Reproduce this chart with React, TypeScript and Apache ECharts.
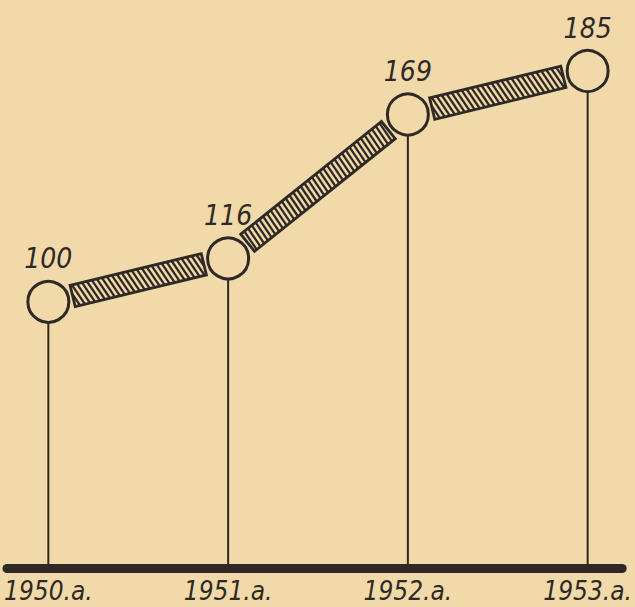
import React, { useEffect, useRef } from "react";
import * as echarts from "echarts";

const years = [1950, 1951, 1952, 1953];
const yearLabels = ["1950.a.", "1951.a.", "1952.a.", "1953.a."];
const values = [100, 116, 169, 185];

const BG = "#f1d9aa";
const INK = "#2e2925";
const FONT = "'Liberation Sans Narrow', 'DejaVu Sans Condensed', 'Roboto', sans-serif";
const Y_MIN = 2;
const Y_MAX = 199;

function renderItem(params: any, api: any) {
  const idx = params.dataIndex;
  const c1 = api.coord([api.value(0), api.value(1)]);
  const base = api.coord([api.value(0), Y_MIN]);
  const r = 21;
  const children: any[] = [
    {
      type: "line",
      shape: { x1: c1[0], y1: c1[1] + r, x2: c1[0], y2: base[1] - 4 },
      style: { stroke: INK, lineWidth: 2 },
    },
  ];
  if (idx < years.length - 1) {
    const c2 = api.coord([years[idx + 1], values[idx + 1]]);
    const dx = c2[0] - c1[0];
    const dy = c2[1] - c1[1];
    const len = Math.sqrt(dx * dx + dy * dy);
    const u = [dx / len, dy / len];
    const n = [-u[1], u[0]];
    const gap = 25;
    const s = [c1[0] + u[0] * gap, c1[1] + u[1] * gap];
    const L = len - 2 * gap;
    const h = 11;
    const P = (a: number, b: number) => [s[0] + u[0] * a + n[0] * b, s[1] + u[1] * a + n[1] * b];
    const corners = [P(0, -h), P(L, -h), P(L, h), P(0, h)];
    // hatch lines: x - k*y = c
    const k = 0.68;
    const step = 5.8;
    const A = u[0] - k * u[1];
    const B = n[0] - k * n[1];
    const C0 = s[0] - k * s[1];
    const cs = corners.map((p) => p[0] - k * p[1]);
    const cmin = Math.min(...cs);
    const cmax = Math.max(...cs);
    for (let c = Math.ceil(cmin / step) * step; c <= cmax; c += step) {
      const a1 = (c - C0 + B * h) / A;
      const a2 = (c - C0 - B * h) / A;
      let t0 = 0;
      let t1 = 1;
      const da = a2 - a1;
      if (Math.abs(da) < 1e-9) {
        if (a1 < 0 || a1 > L) continue;
      } else {
        const ta = (0 - a1) / da;
        const tb = (L - a1) / da;
        t0 = Math.max(t0, Math.min(ta, tb));
        t1 = Math.min(t1, Math.max(ta, tb));
      }
      if (t1 <= t0) continue;
      const p0 = P(a1 + da * t0, -h + 2 * h * t0);
      const p1 = P(a1 + da * t1, -h + 2 * h * t1);
      children.push({
        type: "line",
        shape: { x1: p0[0], y1: p0[1], x2: p1[0], y2: p1[1] },
        style: { stroke: INK, lineWidth: 2.3 },
      });
    }
    children.push({
      type: "polygon",
      shape: { points: corners },
      style: { fill: "transparent", stroke: INK, lineWidth: 2.8, lineJoin: "miter" },
    });
  }
  return { type: "group", children };
}

export default function App() {
  const ref = useRef<HTMLDivElement>(null);
  useEffect(() => {
    if (!ref.current) return;
    const chart = echarts.init(ref.current, null, { renderer: "svg" });
    chart.setOption({
      animation: false,
      backgroundColor: BG,
      grid: { left: 7, right: 3, top: 33, bottom: 39 },
      xAxis: {
        type: "value",
        min: 1949.77,
        max: 1953.192,
        splitLine: { show: false },
        axisTick: { show: false },
        axisLine: { show: true, onZero: false, lineStyle: { color: INK, width: 9 } },
        axisLabel: {
          customValues: years,
          formatter: (v: number) => yearLabels[years.indexOf(Math.round(v))] ?? "",
          margin: 10,
          fontSize: 26,
          fontStyle: "italic",
          fontFamily: FONT,
          color: INK,
        },
      },
      yAxis: { type: "value", min: Y_MIN, max: Y_MAX, show: false },
      series: [
        {
          type: "custom",
          renderItem,
          data: years.map((y, i) => [y, values[i]]),
          z: 2,
          silent: true,
        },
        {
          type: "scatter",
          data: years.map((y, i) => [y, values[i]]),
          symbol: "circle",
          symbolSize: 41,
          itemStyle: { color: BG, borderColor: INK, borderWidth: 3, opacity: 1 },
          label: {
            show: true,
            position: "top",
            distance: 7,
            formatter: (p: any) => String(values[p.dataIndex]),
            fontSize: 28,
            fontStyle: "italic",
            fontFamily: FONT,
            color: INK,
          },
          z: 3,
          silent: true,
        },
      ],
    });
    return () => chart.dispose();
  }, []);
  return (
    <div
      ref={ref}
      style={{ position: "fixed", left: 0, top: 0, width: 635, height: 607 }}
    />
  );
}
